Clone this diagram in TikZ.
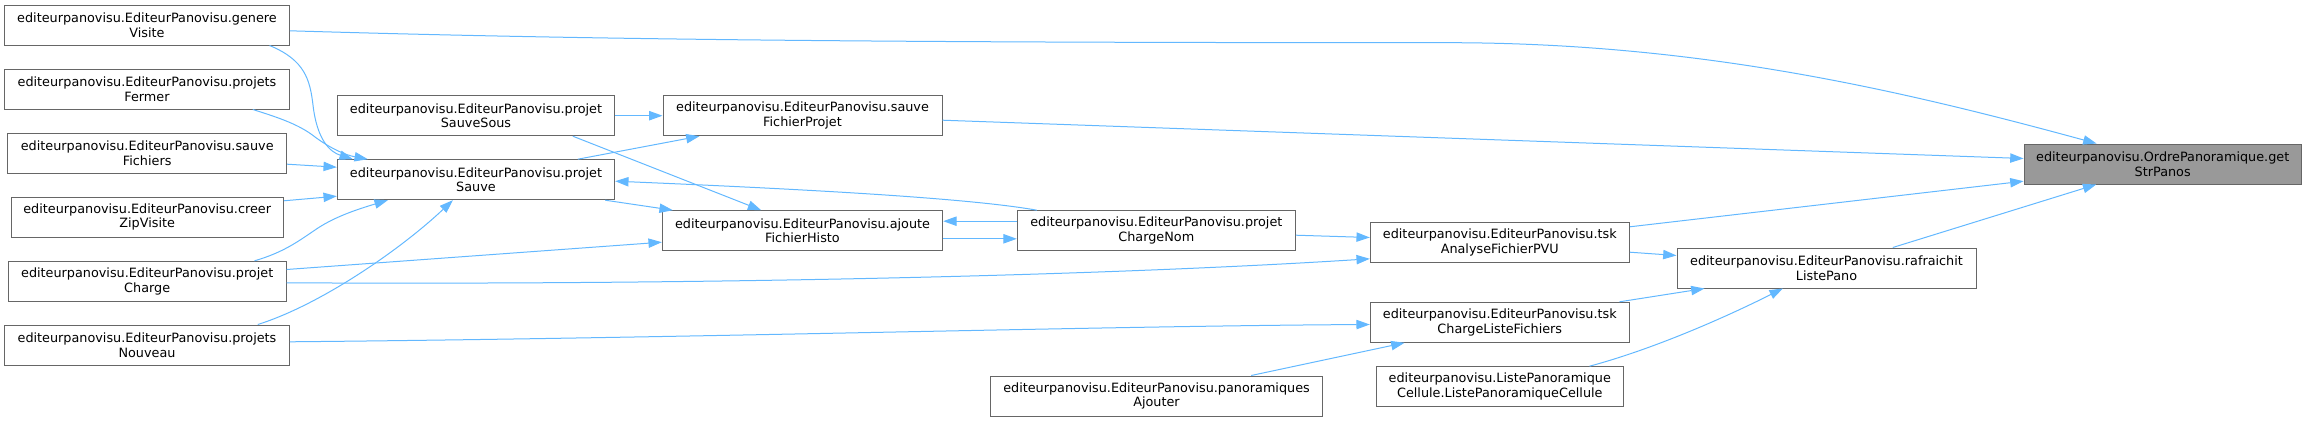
\documentclass[tikz,border=0pt]{standalone}
\usepackage{fontspec}
\setmainfont{DejaVu Sans}
\usetikzlibrary{arrows.meta,calc}
\definecolor{edgeblue}{HTML}{63B8FF}
\definecolor{boxline}{HTML}{666666}
\definecolor{rootfill}{HTML}{999999}
\begin{document}
\begin{tikzpicture}[x=0.75pt,y=-0.75pt,
  fn/.style={draw=boxline,line width=0.75pt,fill=white,inner sep=0pt,minimum height=30pt,align=center,font=\fontsize{9.6}{11}\selectfont},
  root/.style={fn,fill=rootfill},
  call/.style={draw=edgeblue,line width=0.75pt,-{Triangle[length=10pt,width=7pt]},fill=none}]
\useasboundingbox (0,0) rectangle (2307,421);
% column 1
\node[fn,minimum width=213.45pt] (gv) at (147,25) {editeurpanovisu.EditeurPanovisu.genere\\Visite};
\node[fn,minimum width=213.45pt] (pf) at (147,89) {editeurpanovisu.EditeurPanovisu.projets\\Fermer};
\node[fn,minimum width=209.25pt] (sf) at (147.2,153.3) {editeurpanovisu.EditeurPanovisu.sauve\\Fichiers};
\node[fn,minimum width=204.2pt] (czv) at (147.2,217) {editeurpanovisu.EditeurPanovisu.creer\\ZipVisite};
\node[fn,minimum width=208.3pt] (pc) at (147.2,281.3) {editeurpanovisu.EditeurPanovisu.projet\\Charge};
\node[fn,minimum width=213.45pt] (pn) at (147,345) {editeurpanovisu.EditeurPanovisu.projets\\Nouveau};
% column 2
\node[fn,minimum width=208pt] (pss) at (476,115.7) {editeurpanovisu.EditeurPanovisu.projet\\SauveSous};
\node[fn,minimum width=208pt] (ps) at (476,179.7) {editeurpanovisu.EditeurPanovisu.projet\\Sauve};
% column 3
\node[fn,minimum width=209.25pt] (sfp) at (802.5,115.7) {editeurpanovisu.EditeurPanovisu.sauve\\FichierProjet};
\node[fn,minimum width=210.3pt] (afh) at (802.5,230.7) {editeurpanovisu.EditeurPanovisu.ajoute\\FichierHisto};
% column 4
\node[fn,minimum width=208.5pt] (pcn) at (1156.3,230.7) {editeurpanovisu.EditeurPanovisu.projet\\ChargeNom};
\node[fn,minimum width=249.3pt] (pa) at (1156.5,396) {editeurpanovisu.EditeurPanovisu.panoramiques\\Ajouter};
% column 5
\node[fn,minimum width=194.25pt] (tap) at (1499.8,242.3) {editeurpanovisu.EditeurPanovisu.tsk\\AnalyseFichierPVU};
\node[fn,minimum width=194.25pt] (tclf) at (1499.8,322.3) {editeurpanovisu.EditeurPanovisu.tsk\\ChargeListeFichiers};
\node[fn,minimum width=185.25pt] (lpc) at (1499.8,386.7) {editeurpanovisu.ListePanoramique\\Cellule.ListePanoramiqueCellule};
% column 6
\node[fn,minimum width=224.25pt] (rlp) at (1826.5,268) {editeurpanovisu.EditeurPanovisu.rafraichit\\ListePano};
% root
\node[root,minimum width=208pt] (gsp) at (2162.7,164) {editeurpanovisu.OrdrePanoramique.get\\StrPanos};

% edges into getStrPanos
\draw[call] ($(gv.north east)+(0,26.3)$) .. controls (600,40) and (900,42.7) .. (1450,42.7) .. controls (1700,43) and (1900,90) .. ($(gsp.north west)+(73,0)$);
\draw[call] ($(sfp.north east)+(0,25)$) -- ($(gsp.north west)+(0,15)$);
\draw[call] ($(tap.north east)+(0,5)$) -- ($(gsp.north west)+(0,37.7)$);
\draw[call] ($(rlp.north west)+(216.3,0)$) -- ($(gsp.south west)+(72.7,0)$);
% column 2 -> column 3
\draw[call] (pss.east) -- (sfp.west);
\draw[call] ($(pss.south west)+(236,0)$) -- ($(afh.north west)+(99.4,0)$);
\draw[call] ($(ps.north west)+(241,0)$) -- ($(sfp.south west)+(37,0)$);
\draw[call] ($(ps.south west)+(268.4,0)$) -- ($(afh.north west)+(11,0)$);
% projetChargeNom links
\draw[call] ($(pcn.north west)+(20,0)$) .. controls (980,200) and (850,191) .. ($(ps.north east)+(0,22)$);
\draw[call] ($(pcn.north west)+(0,11)$) -- ($(afh.north east)+(0,11)$);
\draw[call] ($(afh.north east)+(0,28.6)$) -- ($(pcn.north west)+(0,28.6)$);
\draw[call] ($(pcn.north east)+(0,25)$) -- ($(tap.north west)+(0,15.7)$);
% column 1 -> projetSauve
\draw[call] ($(gv.south west)+(265.3,0)$) .. controls (305,60) and (310,80) .. (313,105) .. controls (317,140) and (330,152) .. ($(ps.north west)+(16,0)$);
\draw[call] ($(pf.south west)+(248.6,0)$) .. controls (280,118) and (300,125) .. (315,137) .. controls (330,148) and (345,155) .. ($(ps.north west)+(31,0)$);
\draw[call] ($(sf.north east)+(0,31.4)$) -- ($(ps.north west)+(0,8)$);
\draw[call] ($(czv.north east)+(0,4.3)$) -- ($(ps.north west)+(0,37)$);
\draw[call] ($(pc.north west)+(246.7,0)$) .. controls (285,252) and (300,240) .. (318,228) .. controls (335,217) and (355,210) .. ($(ps.south west)+(51,0)$);
\draw[call] ($(pn.north west)+(253.6,0)$) .. controls (320,305) and (400,250) .. ($(ps.south west)+(116,0)$);
% long edges
\draw[call] ($(pc.north east)+(0,8.7)$) -- ($(afh.north west)+(0,32)$);
\draw[call] ($(pc.north east)+(0,22)$) .. controls (700,285) and (1100,276) .. ($(tap.north west)+(0,37)$);
\draw[call] ($(pn.north east)+(0,17.3)$) .. controls (700,338) and (1100,326) .. ($(tclf.north west)+(0,22.7)$);
\draw[call] ($(pa.north west)+(261.4,0)$) -- ($(tclf.south west)+(34.7,0)$);
% into rafraichitListePano
\draw[call] ($(tap.north east)+(0,30.4)$) -- ($(rlp.north west)+(0,8)$);
\draw[call] ($(tclf.north west)+(249.7,0)$) -- ($(rlp.south west)+(28,0)$);
\draw[call] ($(lpc.north west)+(213.7,0)$) .. controls (1650,350) and (1720,320) .. ($(rlp.south west)+(106.3,0)$);
\end{tikzpicture}
\end{document}
